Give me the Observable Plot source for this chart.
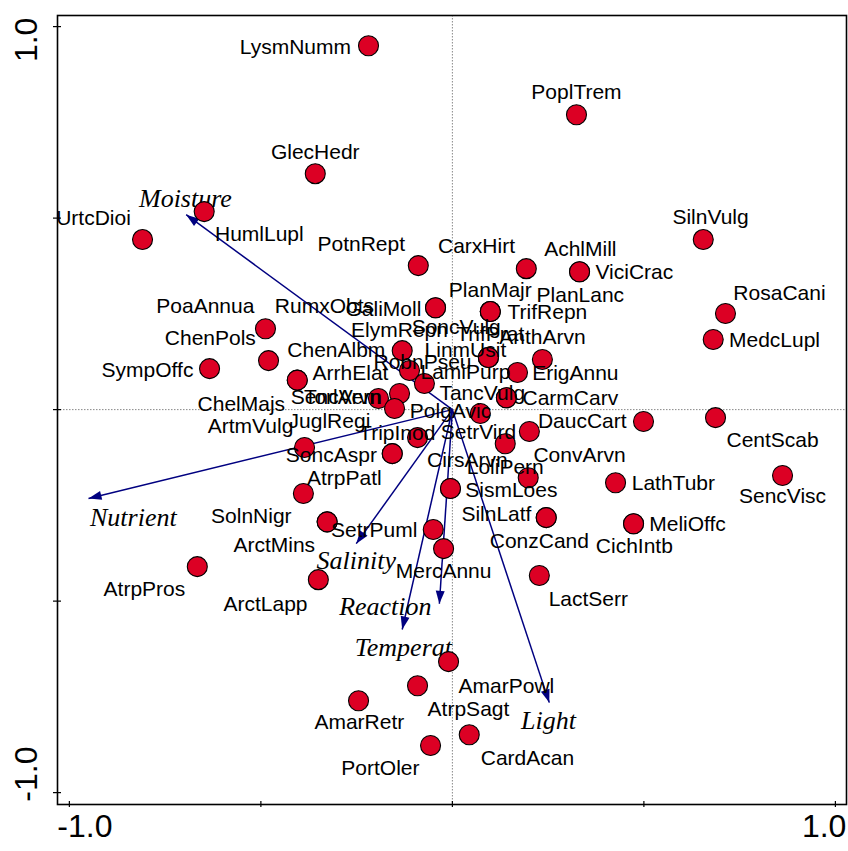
<!DOCTYPE html>
<html>
<head>
<meta charset="utf-8">
<script src="https://cdn.jsdelivr.net/npm/d3@7"></script>
<script src="https://cdn.jsdelivr.net/npm/@observablehq/plot@0.6"></script>
<style>
  html, body { margin: 0; padding: 0; background: #fff; }
  #chart { width: 848px; height: 851px; }
</style>
</head>
<body>
<div id="chart"></div>
<script>
// ---- species scores (axis 1, axis 2) ----
const species = ["LysmNumm","PoplTrem","GlecHedr","UrtcDioi","HumlLupl","SilnVulg","PotnRept","CarxHirt","AchlMill","ViciCrac",
  "RosaCani","PlanLanc","PlanMajr","TrifRepn","MedcLupl","PoaAnnua","RumxObts","GaliMoll","ChenPols","ElymRepn",
  "SoncVulg","TrifPrat","AnthArvn","SympOffc","ChenAlbm","LinmUsit","RobnPseu","ArrhElat","LamiPurp","ErigAnnu",
  "TancVulg","CarmCarv","SencVern","TorlArvn","ChelMajs","PolgAvic","ArtmVulg","JuglRegi","DaucCart","CentScab",
  "TripInod","SetrVird","SoncAspr","CirsArvn","ConvArvn","LoliPern","AtrpPatl","LathTubr","SencVisc","SismLoes",
  "SolnNigr","SilnLatf","MeliOffc","SetrPuml","ArctMins","ConzCand","CichIntb","MercAnnu","AtrpPros","LactSerr",
  "ArctLapp","AmarPowl","AtrpSagt","AmarRetr","CardAcan","PortOler"];
const spX = [-0.219,0.324,-0.358,-0.809,-0.648,0.655,-0.089,0.193,0.332,0.332,
  0.713,0.099,0.099,0.099,0.681,-0.488,-0.044,-0.044,-0.480,-0.131,
  0.094,0.094,0.170,-0.634,-0.405,0.094,-0.112,-0.405,-0.073,0.235,
  0.141,0.141,-0.193,-0.138,-0.151,0.073,-0.386,-0.157,0.499,0.687,
  -0.091,0.138,-0.157,-0.005,0.201,0.198,-0.389,0.426,0.862,-0.005,
  -0.327,0.245,0.473,-0.050,-0.327,0.245,0.473,-0.023,-0.666,0.227,
  -0.350,-0.010,-0.091,-0.245,0.044,-0.057];
const spY = [0.950,0.770,0.616,0.444,0.517,0.444,0.376,0.368,0.360,0.360,
  0.251,0.256,0.256,0.256,0.183,0.211,0.266,0.266,0.128,0.154,
  0.136,0.136,0.097,0.107,0.077,0.136,0.102,0.077,0.068,0.131,
  0.031,0.031,0.029,0.042,0.003,-0.010,-0.099,-0.115,-0.031,-0.021,
  -0.073,-0.089,-0.115,-0.206,-0.057,-0.178,-0.219,-0.191,-0.172,-0.206,
  -0.293,-0.282,-0.298,-0.313,-0.293,-0.282,-0.298,-0.363,-0.410,-0.433,
  -0.444,-0.658,-0.721,-0.760,-0.849,-0.877];
// label anchor points (same axis units)
const labX = [-0.410,0.324,-0.358,-0.937,-0.504,0.674,-0.238,0.063,0.334,0.475,
  0.854,0.334,0.099,0.248,0.841,-0.645,-0.334,-0.180,-0.632,-0.138,
  0.010,0.099,0.235,-0.796,-0.303,0.034,-0.078,-0.266,0.034,0.321,
  0.078,0.308,-0.303,-0.287,-0.551,-0.005,-0.527,-0.321,0.339,0.836,
  -0.144,0.068,-0.316,0.039,0.332,0.138,-0.282,0.577,0.862,0.154,
  -0.525,0.115,0.614,-0.204,-0.465,0.227,0.475,-0.023,-0.804,0.355,
  -0.488,0.141,0.042,-0.243,0.196,-0.188];
const labY = [0.945,0.828,0.671,0.499,0.457,0.501,0.431,0.426,0.418,0.358,
  0.303,0.298,0.311,0.253,0.180,0.269,0.269,0.261,0.185,0.206,
  0.214,0.196,0.188,0.102,0.154,0.154,0.123,0.094,0.097,0.094,
  0.042,0.029,0.031,0.031,0.013,-0.003,-0.044,-0.031,-0.031,-0.081,
  -0.063,-0.060,-0.120,-0.133,-0.120,-0.151,-0.178,-0.193,-0.227,-0.211,
  -0.279,-0.272,-0.300,-0.316,-0.355,-0.345,-0.358,-0.423,-0.470,-0.496,
  -0.509,-0.721,-0.783,-0.817,-0.909,-0.937];

// ---- environmental variables (arrow tips) ----
const envVars = ["Moisture","Nutrient","Salinity","Reaction","Temperat","Light"];
const envX = [-0.695,-0.950,-0.251,-0.034,-0.131,0.253];
const envY = [0.509,-0.232,-0.350,-0.507,-0.574,-0.765];
const envLabX = [-0.697,-0.833,-0.251,-0.175,-0.128,0.251];
const envLabY = [0.551,-0.282,-0.394,-0.514,-0.621,-0.812];

// ---- axes ----
const axisDomain = [-1.031, 1.029];
const tickValues = [-1, -0.5, 0, 0.5, 1];
const tickLabelValues = [-1, 1];
const tickLabelText = ["-1.0", "1.0"];

const sp = species.map((name, i) => ({name, x: spX[i], y: spY[i], lx: labX[i], ly: labY[i]}));
const env = envVars.map((name, i) => ({name, x: envX[i], y: envY[i], lx: envLabX[i], ly: envLabY[i]}));

const arrowHead = {
  draw(ctx) {
    const L = 13, W = 4.5;
    ctx.moveTo(0, 0);
    ctx.lineTo(-W, L);
    ctx.lineTo(W, L);
    ctx.closePath();
  }
};

const sans = "Liberation Sans, Arial, Helvetica, sans-serif";
const serif = "Liberation Serif, Times New Roman, serif";
const red = "#dc0024";
const navy = "#000080";

const chart = Plot.plot({
  width: 848,
  height: 851,
  marginLeft: 57,
  marginRight: 2,
  marginTop: 15,
  marginBottom: 47,
  x: {domain: axisDomain, axis: null},
  y: {domain: axisDomain, axis: null},
  style: {background: "white"},
  marks: [
    Plot.ruleX([0], {stroke: "#888", strokeWidth: 1, strokeDasharray: "1.5,1.5"}),
    Plot.ruleY([0], {stroke: "#888", strokeWidth: 1, strokeDasharray: "1.5,1.5"}),
    Plot.link(env, {x1: () => 0, y1: () => 0, x2: "x", y2: "y", stroke: navy, strokeWidth: 1.5}),
    Plot.dot(env, {x: "x", y: "y", symbol: arrowHead, fill: navy, stroke: "none", r: 5,
      rotate: d => Math.atan2(d.x, d.y) * 180 / Math.PI}),
    Plot.text(env, {x: "lx", y: "ly", text: "name", fontFamily: serif, fontStyle: "italic",
      fontSize: 26, fill: "black"}),
    Plot.dot(sp, {x: "x", y: "y", r: 10, fill: red, stroke: "black", strokeWidth: 1.1}),
    Plot.text(sp, {x: "lx", y: "ly", text: "name", fontFamily: sans, fontSize: 21, fill: "black"}),
    Plot.frame({stroke: "black", strokeWidth: 1.6}),
    Plot.ruleX(tickValues, {x: d => d, y1: () => axisDomain[0], y2: () => axisDomain[0],
      insetTop: -3, insetBottom: -3, stroke: "black", strokeWidth: 1.2}),
    Plot.ruleY(tickValues, {y: d => d, x1: () => axisDomain[0], x2: () => axisDomain[0],
      insetLeft: -4, insetRight: -4, stroke: "black", strokeWidth: 1.2}),
    Plot.text([tickLabelValues[0]], {x: d => d, frameAnchor: "bottom", text: () => tickLabelText[0],
      textAnchor: "start", dx: -12, dy: 32, fontFamily: sans, fontSize: 32, fill: "black"}),
    Plot.text([tickLabelValues[1]], {x: d => d, frameAnchor: "bottom", text: () => tickLabelText[1],
      textAnchor: "end", dx: 11, dy: 32, fontFamily: sans, fontSize: 32, fill: "black"}),
    Plot.text([tickLabelValues[0]], {y: d => d, frameAnchor: "left", text: () => tickLabelText[0],
      textAnchor: "start", rotate: -90, dx: -31, dy: 9, fontFamily: sans, fontSize: 32, fill: "black"}),
    Plot.text([tickLabelValues[1]], {y: d => d, frameAnchor: "left", text: () => tickLabelText[1],
      textAnchor: "end", rotate: -90, dx: -31, dy: -9, fontFamily: sans, fontSize: 32, fill: "black"})
  ]
});
document.getElementById("chart").appendChild(chart);
</script>
</body>
</html>
